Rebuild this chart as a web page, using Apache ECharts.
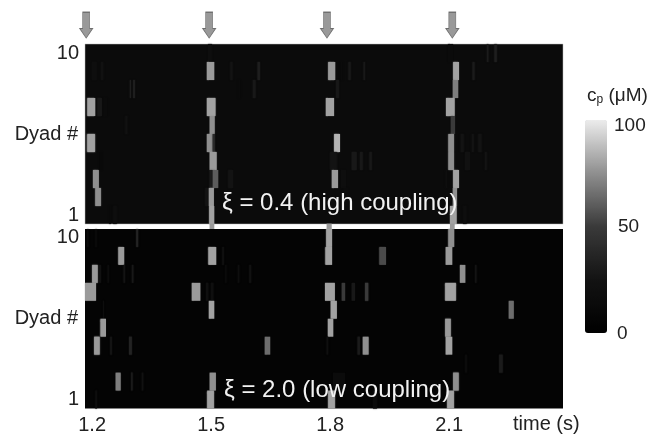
<!DOCTYPE html>
<html><head><meta charset="utf-8">
<style>html,body{margin:0;padding:0;background:#fff}#c{width:664px;height:435px}</style>
<script src="https://cdn.jsdelivr.net/npm/echarts@6/dist/echarts.min.js"></script>
</head><body><div id="c"></div>
<script>
// [dyad, t start (s), t end (s), cp (uM)]
const topEvents = [
[7,1.188,1.208,80],[7,1.213,1.225,28],[7,1.228,1.238,15],[5,1.188,1.207,80],[3,1.202,1.217,75],[2,1.208,1.222,75],
[8,1.295,1.298,32],[8,1.303,1.308,32],[9,1.199,1.212,18],[9,1.222,1.228,22],[6,1.283,1.289,22],[1,1.243,1.247,15],[1,1.253,1.262,18],[4,1.218,1.225,12],
[10,1.492,1.502,18],[9,1.489,1.508,78],[7,1.489,1.511,80],[6,1.496,1.509,75],[5,1.489,1.504,75],[5,1.504,1.509,40],[4,1.496,1.514,78],
[3,1.496,1.504,30],[3,1.504,1.518,60],[2,1.485,1.492,25],[2,1.494,1.507,78],[1,1.495,1.508,80],
[9,1.548,1.554,25],[9,1.617,1.623,32],[8,1.605,1.612,28],[8,1.568,1.573,15],[3,1.543,1.556,25],
[9,1.795,1.813,78],[9,1.846,1.852,28],[9,1.884,1.888,28],[9,1.827,1.831,15],[8,1.815,1.822,28],[7,1.789,1.810,80],[5,1.810,1.825,85],
[4,1.800,1.817,25],[4,1.854,1.867,28],[4,1.875,1.882,28],[4,1.899,1.905,28],[3,1.804,1.820,78],[3,1.827,1.840,18],[2,1.833,1.845,14],
[10,2.195,2.199,30],[10,2.214,2.220,32],[10,2.097,2.110,15],[9,2.110,2.125,80],[9,2.159,2.164,30],[8,2.109,2.123,70],[7,2.092,2.114,80],
[6,2.104,2.115,50],[5,2.098,2.112,75],[5,2.129,2.137,25],[5,2.157,2.162,25],[5,2.173,2.182,25],[4,2.098,2.112,75],[4,2.140,2.153,22],[4,2.190,2.195,25],
[3,2.110,2.125,80],[3,2.091,2.095,18],[2,2.109,2.120,75],[1,2.102,2.119,80],[1,2.135,2.144,18]
];
const bottomEvents = [
[10,1.311,1.316,35],[10,1.187,1.191,15],[10,1.208,1.212,15],[10,1.790,1.805,80],[10,2.098,2.113,75],
[9,1.266,1.281,78],[9,1.493,1.513,80],[9,1.788,1.805,80],[9,1.924,1.941,55],[9,2.091,2.108,78],[9,1.528,1.532,22],
[8,1.200,1.214,78],[8,1.218,1.222,25],[8,1.239,1.242,18],[8,1.279,1.283,25],[8,1.300,1.304,28],[8,1.535,1.539,15],[8,1.567,1.571,18],[8,1.596,1.601,22],[8,2.127,2.141,75],[8,2.165,2.169,25],
[7,1.182,1.210,78],[7,1.451,1.473,78],[7,1.487,1.493,20],[7,1.499,1.506,20],[7,1.787,1.812,80],[7,1.829,1.838,50],[7,1.854,1.863,28],[7,1.888,1.896,50],[7,2.090,2.117,80],
[6,1.494,1.508,80],[6,1.801,1.817,80],[6,2.250,2.263,65],[6,1.228,1.230,20],
[5,1.221,1.235,78],[5,1.794,1.808,80],[5,2.090,2.104,78],
[4,1.205,1.219,78],[4,1.245,1.250,25],[4,1.293,1.300,35],[4,1.635,1.649,65],[4,1.882,1.897,75],[4,1.869,1.875,30],[4,1.791,1.795,20],[4,2.091,2.108,80],
[3,2.226,2.235,30],[3,2.140,2.145,15],
[2,1.259,1.272,70],[2,1.298,1.302,30],[2,1.325,1.329,22],[2,1.496,1.512,75],[2,2.110,2.124,75],[2,1.807,1.838,14],
[1,1.490,1.507,80],[1,1.208,1.212,18],[1,1.795,1.812,80],[1,2.095,2.112,80],[1,1.908,1.918,14]
];
// long release events that cross the gap between the panels: [t start, t end, cp]
const crossing = [[1.496,1.508,72],[1.791,1.804,72],[2.102,2.114,72]];
const stimulusTimes = [1.185,1.495,1.792,2.108];
const timeTicks = [1.2,1.5,1.8,2.1];
const dyadTicks = [1,10];
const colorStops = ['#000000','#131313','#3a3a3a','#8f8f8f','#ececec'];
const colorTicks = [100,50,0];

const FONT = '"Liberation Sans", Arial, sans-serif';
const chart = echarts.init(document.getElementById('c'), null, {renderer:'canvas'});

function rect(params, api){
  const a = api.coord([api.value(1), api.value(0)-0.5]);
  const b = api.coord([api.value(2), api.value(0)+0.5]);
  const c = api.visual('color');
  return {type:'rect', shape:{x:a[0], y:b[1], width:b[0]-a[0], height:a[1]-b[1]},
          style:{fill:c, shadowBlur:1.5, shadowColor:c}};
}
function gapRect(params, api){
  const a = api.coord([api.value(0), 10.5]);
  const b = api.coord([api.value(1), 10.8]);
  return {type:'rect', shape:{x:a[0], y:b[1], width:b[0]-a[0], height:a[1]-b[1]},
          style:{fill:api.visual('color')}};
}
const xBase = {type:'value', min:1.182, max:2.387, splitLine:{show:false}, axisLine:{show:false}, axisTick:{show:false}};
const yBase = {type:'value', min:0.5, max:10.5, splitLine:{show:false}, axisLine:{show:false}, axisTick:{show:false},
  axisLabel:{customValues:dyadTicks, margin:6, fontFamily:FONT, fontSize:20, color:'#222', showMinLabel:true, showMaxLabel:true},
  name:'Dyad #', nameLocation:'middle', nameRotate:0, nameGap:7, nameMoveOverlap:false, nameTextStyle:{fontFamily:FONT, fontSize:20, color:'#222'}};

chart.setOption({
  animation:false,
  backgroundColor:'#fff',
  grid:[
    {left:85, top:44, width:478, height:180, show:true, outerBoundsMode:'none', backgroundColor:'#0b0b0b', borderColor:'#bbb', borderWidth:0.5},
    {left:85, top:229, width:478, height:179.5, show:true, outerBoundsMode:'none', backgroundColor:'#040404', borderWidth:0}
  ],
  xAxis:[
    Object.assign({gridIndex:0, axisLabel:{show:false}}, xBase),
    Object.assign({gridIndex:1, axisLabel:{customValues:timeTicks, margin:7, fontFamily:FONT, fontSize:20, color:'#222',
      formatter:v=>Number(v).toFixed(1)}}, xBase)
  ],
  yAxis:[Object.assign({gridIndex:0}, yBase), Object.assign({gridIndex:1}, yBase)],
  visualMap:{type:'continuous', min:0, max:100, dimension:3, seriesIndex:[0,1], left:585, top:120, itemWidth:22, itemHeight:213,
    padding:0, calculable:false, showLabel:false, text:null, inRange:{color:colorStops}},
  series:[
    {type:'custom', xAxisIndex:0, yAxisIndex:0, renderItem:rect, encode:{x:[1,2], y:0}, data:topEvents},
    {type:'custom', xAxisIndex:1, yAxisIndex:1, renderItem:rect, encode:{x:[1,2], y:0}, data:bottomEvents},
    {type:'custom', xAxisIndex:1, yAxisIndex:1, clip:false, renderItem:gapRect, encode:{x:[0,1]},
      data:crossing.map(c=>[c[0],c[1],0,c[2]]), itemStyle:{color:'#9a9a9a'}},
    {type:'scatter', xAxisIndex:0, yAxisIndex:0, clip:false, symbol:'path://M3,0 L10,0 L10,17 L13,17 L6.5,27 L0,17 L3,17 Z', symbolSize:[13,26],
      data:stimulusTimes.map(t=>[t,11.55]), itemStyle:{color:'#808080', borderColor:'#555', borderWidth:0.8}, silent:true}
  ],
  graphic:[
    {type:'text', left:222, top:191, z:100, style:{text:'ξ = 0.4 (high coupling)', fontFamily:FONT, fontSize:24, fill:'#f2f2f2'}},
    {type:'text', left:224, top:378, z:100, style:{text:'ξ = 2.0 (low coupling)', fontFamily:FONT, fontSize:24, fill:'#f2f2f2'}},
    {type:'text', left:513, top:414, style:{text:'time (s)', fontFamily:FONT, fontSize:20, fill:'#222'}},
    {type:'text', left:587, top:86, style:{rich:{a:{fontFamily:FONT, fontSize:19, fill:'#222'}, s:{fontFamily:FONT, fontSize:12, fill:'#222', verticalAlign:'bottom', padding:[8,0,0,0]}},
      text:'{a|c}{s|p}{a| (μM)}'}},
    ...colorTicks.map((v,i)=>({type:'text', left:[614,618,617][i], top:[116,217,324][i], style:{text:String(v), fontFamily:FONT, fontSize:19, fill:'#222'}}))
  ]
});
</script></body></html>
